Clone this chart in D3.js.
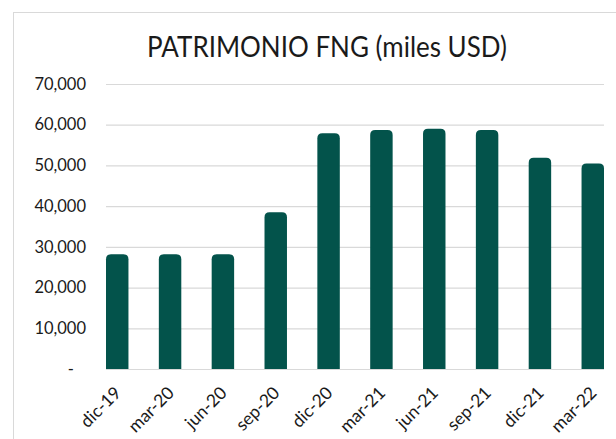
<!DOCTYPE html>
<html>
<head>
<meta charset="utf-8">
<title>Patrimonio FNG</title>
<style>
  body { margin: 0; background: #fff; }
  svg text { font-family: Lato, "Open Sans", sans-serif; fill: #1a1a1a; }
</style>
</head>
<body>
<div id="chart"></div>
<script src="https://d3js.org/d3.v7.min.js"></script>
<script>
var periods = ["dic-19", "mar-20", "jun-20", "sep-20", "dic-20", "mar-21", "jun-21", "sep-21", "dic-21", "mar-22"];
var patrimonio = [28200, 28200, 28200, 38500, 57900, 58700, 59000, 58700, 51900, 50500];
var yTicks = [0, 10000, 20000, 30000, 40000, 50000, 60000, 70000];

var width = 616, height = 439;
var barColor = "#03534b";

var svg = d3.select("#chart").append("svg")
    .attr("width", width)
    .attr("height", height);

// chart frame (cut off at right and bottom like the screenshot)
svg.append("rect")
    .attr("x", 13.5).attr("y", 12.5)
    .attr("width", 700).attr("height", 600)
    .attr("fill", "none")
    .attr("stroke", "#d9d9d9");

svg.append("text")
    .attr("x", 327).attr("y", 57)
    .attr("text-anchor", "middle")
    .attr("textLength", 360)
    .attr("lengthAdjust", "spacingAndGlyphs")
    .style("font-size", "29px")
    .text("PATRIMONIO FNG (miles USD)");

var x = d3.scaleBand()
    .domain(periods)
    .range([106, 604])
    .paddingInner(0.575)
    .paddingOuter(0);

var y = d3.scaleLinear()
    .domain([0, 70000])
    .range([369, 84]);

// gridlines
svg.append("g")
    .selectAll("line")
    .data(yTicks)
    .enter().append("line")
    .attr("x1", x.range()[0]).attr("x2", x.range()[1])
    .attr("y1", function(d) { return y(d) + 0.5; })
    .attr("y2", function(d) { return y(d) + 0.5; })
    .attr("stroke", "#d9d9d9")
    .attr("stroke-width", 1.2);

// y axis labels
var yAxis = d3.axisLeft(y)
    .tickValues(yTicks)
    .tickSize(0)
    .tickPadding(0)
    .tickFormat(function(d) { return d === 0 ? "-" : d3.format(",")(d); });

var gy = svg.append("g")
    .attr("transform", "translate(86,0)")
    .call(yAxis);
gy.select(".domain").remove();
gy.selectAll("text")
    .style("font-size", "16.5px")
    .attr("fill", "#1a1a1a");
gy.selectAll(".tick").filter(function(d) { return d === 0; })
    .select("text").attr("dx", "-12");

// bars with rounded tops
var r = 5;
function barPath(d, i) {
  var x0 = x(periods[i]), w = x.bandwidth();
  var top = y(d), bottom = y(0);
  return "M" + x0 + "," + bottom +
    "V" + (top + r) +
    "Q" + x0 + "," + top + " " + (x0 + r) + "," + top +
    "H" + (x0 + w - r) +
    "Q" + (x0 + w) + "," + top + " " + (x0 + w) + "," + (top + r) +
    "V" + bottom + "Z";
}

svg.append("g")
    .selectAll("path")
    .data(patrimonio)
    .enter().append("path")
    .attr("d", barPath)
    .attr("fill", barColor);

// x axis labels, rotated
var xAxis = d3.axisBottom(x).tickSize(0).tickPadding(0);
var gx = svg.append("g")
    .attr("transform", "translate(0,369)")
    .call(xAxis);
gx.select(".domain").remove();
gx.selectAll("text")
    .style("font-size", "17.5px")
    .attr("fill", "#1a1a1a")
    .attr("text-anchor", "end")
    .attr("dy", "0")
    .attr("transform", "translate(5,25) rotate(-45)");
</script>
</body>
</html>
